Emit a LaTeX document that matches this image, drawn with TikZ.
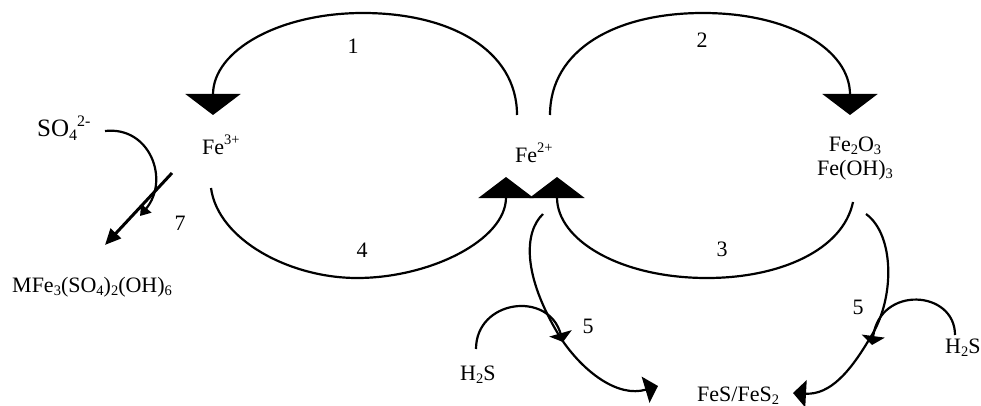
\documentclass[tikz,border=0pt]{standalone}
\usepackage{fontspec}
\setmainfont{Liberation Serif}
\usetikzlibrary{arrows.meta}
\newcommand\mysub[2][14.5]{\raisebox{-0.14em}{\fontsize{#1}{#1}\selectfont #2}}
\newcommand\mysup[2][14.5]{\raisebox{0.42em}{\fontsize{#1}{#1}\selectfont #2}}
\begin{document}
\begin{tikzpicture}[x=1pt,y=-1pt,
  lbl/.style={font=\fontsize{22}{24}\selectfont, inner sep=0pt},
  num/.style={font=\fontsize{22}{24}\selectfont, inner sep=0pt},
  conn/.style={line width=2.2pt},
  bigtip/.style={-{Triangle[length=21pt,width=55pt]}},
  midtip/.style={-{Triangle[length=9pt,width=23pt]}},
  endtip/.style={-{Triangle[length=13pt,width=27pt]}},
  sotip/.style={-{Triangle[length=10pt,width=13pt]}},
  seventip/.style={-{Triangle[length=16pt,width=14pt]}}]
\useasboundingbox (0,0) rectangle (981,406);

% labels
\node[lbl,anchor=base west] (so4) at (37,137) {\fontsize{25}{27}\selectfont SO\mysub[16]{4}\mysup[16]{2-}};
\node[lbl,anchor=base west] (fe3) at (202,154) {Fe\mysup{3+}};
\node[lbl,anchor=base west] (fe2) at (515,162) {Fe\mysup{2+}};
\node[lbl,anchor=north,align=center] (ox) at (855,137) {Fe\mysub{2}O\mysub{3}\\Fe(OH)\mysub{3}};
\node[lbl,anchor=base west] (mfe) at (12,292) {MFe\mysub{3}(SO\mysub{4})\mysub{2}(OH)\mysub{6}};
\node[lbl,anchor=base west] (h2sl) at (460,380) {H\mysub{2}S};
\node[lbl,anchor=base west] (h2sr) at (945,353) {H\mysub{2}S};
\node[lbl,anchor=base west] (fes) at (697,401) {FeS/FeS\mysub{2}};

% reaction numbers
\node[num] (n1) at (353,46) {1};
\node[num] (n2) at (702,40) {2};
\node[num] (n3) at (722,249) {3};
\node[num] (n4) at (362,250) {4};
\node[num] (n5l) at (588,326) {5};
\node[num] (n5r) at (858,307) {5};
\node[num] (n7) at (180,223) {7};

% connector end points
\coordinate (a1s) at (517,115); \coordinate (a1e) at (213,115);
\coordinate (a2s) at (550,115); \coordinate (a2e) at (850,115);
\coordinate (a4s) at (211,188); \coordinate (a4e) at (506,177);
\coordinate (a3s) at (853,202); \coordinate (a3e) at (557,177);
\coordinate (l5s) at (543,214); \coordinate (l5m) at (560,337); \coordinate (l5e) at (658,386);
\coordinate (hls) at (476,349); \coordinate (hle) at (563,342);
\coordinate (r5s) at (866,214); \coordinate (r5m) at (870,338); \coordinate (r5e) at (793,393);
\coordinate (hrs) at (955,335); \coordinate (hre) at (872,345);
\coordinate (s7s) at (172,173); \coordinate (s7e) at (105,245);
\coordinate (sos) at (105,131); \coordinate (soe) at (140,216);

% reactions 1-4
\draw[conn,bigtip] (a1s) .. controls (517,50) and (450,13) .. (363,13) .. controls (280,13) and (213,50) .. (a1e);
\draw[conn,bigtip] (a2s) .. controls (550,50) and (615,13) .. (703,13) .. controls (790,13) and (850,50) .. (a2e);
\draw[conn,bigtip] (a4s) .. controls (218,240) and (290,278) .. (357,278) .. controls (430,278) and (506,240) .. (a4e);
\draw[conn,bigtip] (a3s) .. controls (843,250) and (780,278) .. (707,278) .. controls (620,278) and (557,240) .. (a3e);

% reaction 5 (left and right)
\draw[conn,endtip] (l5s) .. controls (524,232) and (522,275) .. (l5m) .. controls (583,372) and (618,398) .. (l5e);
\draw[conn,midtip] (hls) .. controls (476,300) and (548,290) .. (hle);
\draw[conn,endtip] (r5s) .. controls (895,235) and (895,300) .. (r5m) .. controls (850,372) and (830,395) .. (r5e);
\draw[conn,midtip] (hrs) .. controls (955,290) and (880,285) .. (hre);

% reaction 7
\draw[line width=3pt,seventip] (s7s) -- (s7e);
\draw[conn,sotip] (sos) .. controls (150,126) and (170,180) .. (soe);
\end{tikzpicture}
\end{document}
